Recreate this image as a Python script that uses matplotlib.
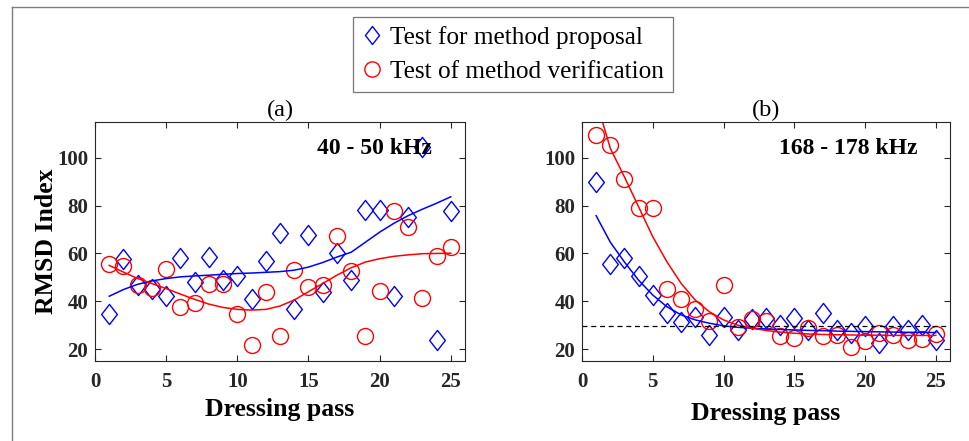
"""RMSD index vs dressing pass, two frequency bands (a) and (b)."""
import matplotlib
matplotlib.use("Agg")
import matplotlib.pyplot as plt
from matplotlib.lines import Line2D
from matplotlib.path import Path

plt.rcParams["font.family"] = ["Liberation Serif", "DejaVu Serif"]

PASS = list(range(1, 26))

# (a) 40 - 50 kHz
A_PROPOSAL = [34.5, 57.5, 46.7, 45.0, 42.0, 58.0, 48.0, 58.5, 48.8, 50.6,
              41.0, 57.0, 68.6, 36.6, 67.9, 44.0, 60.0, 48.8, 78.3, 78.3,
              42.0, 75.4, 104.4, 23.9, 77.9]
A_VERIFY = [55.4, 54.6, 46.7, 45.6, 53.6, 37.7, 39.1, 47.4, 47.4, 34.5,
            21.8, 44.0, 25.3, 53.2, 46.0, 46.9, 67.5, 52.5, 25.3, 44.4,
            77.9, 70.9, 41.5, 58.9, 62.6]
A_PROPOSAL_FIT = [42.1, 44.9, 47.1, 48.5, 49.5, 50.2, 50.6, 50.9, 51.3, 51.6,
                  51.8, 52.1, 52.4, 53.0, 54.3, 56.2, 58.5, 60.5, 64.7, 68.9,
                  72.6, 75.8, 78.5, 81.0, 83.7]
A_VERIFY_FIT = [55.0, 52.2, 49.5, 47.4, 45.3, 43.0, 40.8, 38.8, 37.4, 36.6,
                36.3, 36.6, 38.0, 40.5, 44.0, 47.4, 50.9, 54.0, 56.4, 57.8,
                58.8, 59.4, 59.9, 60.0, 60.1]

# (b) 168 - 178 kHz
B_PROPOSAL = [90.0, 55.7, 58.0, 50.6, 42.6, 35.0, 31.5, 33.6, 25.7, 33.6,
              28.0, 32.5, 32.9, 30.0, 33.1, 27.8, 35.2, 28.0, 26.9, 29.7,
              22.5, 29.7, 28.0, 30.0, 23.9]
B_VERIFY = [109.4, 105.5, 91.0, 79.2, 79.0, 45.3, 40.8, 36.7, 31.9, 46.7,
            29.4, 32.5, 31.8, 25.3, 24.8, 28.7, 25.3, 26.0, 20.7, 23.2,
            26.9, 26.0, 23.9, 24.2, 26.2]
B_PROPOSAL_FIT = [75.8, 64.7, 56.4, 48.8, 42.6, 37.7, 34.3, 32.2, 30.8, 29.7,
                  29.1, 28.7, 28.4, 28.2, 28.0, 27.8, 27.7, 27.5, 27.4, 27.3,
                  27.2, 27.1, 27.0, 27.0, 26.9]
B_VERIFY_FIT = [124.0, 104.0, 92.0, 79.5, 67.0, 56.5, 47.5, 40.5, 35.6, 32.2,
                30.0, 28.7, 27.8, 27.1, 26.6, 26.3, 26.1, 26.0, 25.9, 25.8,
                25.8, 25.7, 25.7, 25.7, 25.7]
B_THRESHOLD = 29.7

PANELS = [
    ("(a)", "40 - 50 kHz", A_PROPOSAL, A_VERIFY, A_PROPOSAL_FIT, A_VERIFY_FIT),
    ("(b)", "168 - 178 kHz", B_PROPOSAL, B_VERIFY, B_PROPOSAL_FIT, B_VERIFY_FIT),
]
LEGEND_LABELS = ["Test for method proposal", "Test of method verification"]

BLUE = "#0000ff"
RED = "#ff0000"
DIAMOND = Path([(0, 1), (0.78, 0), (0, -1), (-0.78, 0), (0, 1)],
               [Path.MOVETO, Path.LINETO, Path.LINETO, Path.LINETO, Path.CLOSEPOLY])

W, H = 970, 441
fig = plt.figure(figsize=(W / 100, H / 100), dpi=100)

# outer frame (only left/top visible in the crop)
fig.add_artist(Line2D([12 / W, 12 / W], [0, 1 - 7 / H], transform=fig.transFigure,
                      color="#7f7f7f", lw=1))
fig.add_artist(Line2D([12 / W, 1], [1 - 7 / H, 1 - 7 / H], transform=fig.transFigure,
                      color="#7f7f7f", lw=1))

axes_px = [(95, 465), (582, 950)]
top_px, bot_px = 122, 361
xlabel_pad = [4, 7]

for i, (title, band, prop, ver, prop_fit, ver_fit) in enumerate(PANELS):
    l, r = axes_px[i]
    ax = fig.add_axes([l / W, 1 - bot_px / H, (r - l) / W, (bot_px - top_px) / H])
    ax.plot(PASS, prop, ls="none", marker=DIAMOND, ms=14.5, mfc="none",
            mec=BLUE, mew=1.0, clip_on=False)
    ax.plot(PASS, ver, ls="none", marker="o", ms=11.5, mfc="none",
            mec=RED, mew=1.0, clip_on=False)
    ax.plot(PASS, prop_fit, color=BLUE, lw=1.1)
    ax.plot(PASS, ver_fit, color=RED, lw=1.1)
    if i == 1:
        ax.axhline(B_THRESHOLD, color="black", ls=(0, (4, 3)), lw=0.9)

    ax.set_xlim(0, 26)
    ax.set_ylim(15, 115)
    ax.set_xticks(range(0, 26, 5))
    ax.set_yticks(range(20, 101, 20))
    ax.tick_params(direction="in", top=True, right=True, length=4, width=0.8,
                   color="#262626", labelsize=15, labelcolor="#262626")
    ax.tick_params(axis="x", pad=8)
    ax.tick_params(axis="y", pad=5)
    for lab in ax.get_xticklabels() + ax.get_yticklabels():
        lab.set_fontweight("bold")
    for sp in ax.spines.values():
        sp.set_color("#262626")
        sp.set_linewidth(0.8)

    ax.set_title(title, fontsize=17.5, pad=4)
    ax.set_xlabel("Dressing pass", fontsize=18.5, fontweight="bold",
                  labelpad=xlabel_pad[i])
    ax.text(23.7, 104, band, ha="right", va="center", fontsize=17,
            fontweight="bold")
    if i == 0:
        ax.set_ylabel("RMSD Index", fontsize=18.5, fontweight="bold", labelpad=-1)

handles = [
    Line2D([], [], ls="none", marker=DIAMOND, ms=13, mfc="none", mec=BLUE, mew=1.0),
    Line2D([], [], ls="none", marker="o", ms=11, mfc="none", mec=RED, mew=1.0),
]
leg = fig.legend(handles, LEGEND_LABELS, loc="upper center",
                 bbox_to_anchor=(513 / W, 1 - 17 / H), fontsize=18.2,
                 frameon=True, fancybox=False, edgecolor="#555555",
                 handlelength=0.8, handletextpad=0.3, labelspacing=0.45,
                 borderpad=0.35, borderaxespad=0)
leg.get_frame().set_linewidth(0.9)

fig.savefig("out.png", dpi=100)
